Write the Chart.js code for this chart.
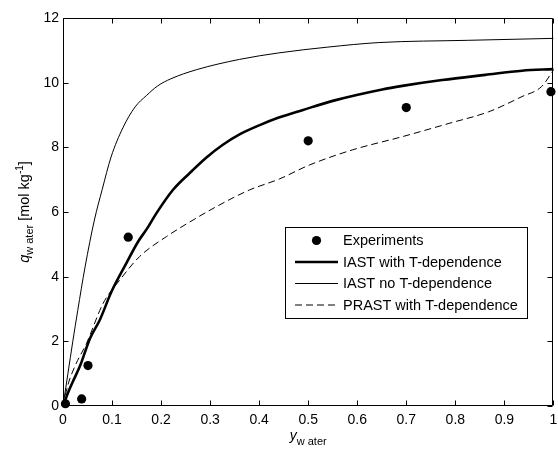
<!DOCTYPE html>
<html>
<head>
<meta charset="utf-8">
<script src="https://cdn.jsdelivr.net/npm/chart.js@4/dist/chart.umd.min.js"></script>
<style>
  html, body { margin: 0; padding: 0; background: #fff; }
  #wrap { width: 558px; height: 451px; }
</style>
</head>
<body>
<div id="wrap"><canvas id="c" width="558" height="451"></canvas></div>
<script>
const FONT = '"Liberation Sans", Arial, Helvetica, sans-serif';

// Axis ticks
const xTickValues = [0, 0.1, 0.2, 0.3, 0.4, 0.5, 0.6, 0.7, 0.8, 0.9, 1];
const yTickValues = [0, 2, 4, 6, 8, 10, 12];

// Measured uptake
const expY_water = [0.005, 0.038, 0.051, 0.133, 0.5, 0.7, 0.995];
const expQ_water = [0.07, 0.22, 1.25, 5.22, 8.2, 9.23, 9.72];

// IAST with temperature dependence
const iastT_y = [0, 0.01, 0.02, 0.035, 0.055, 0.075, 0.099, 0.129, 0.153, 0.172, 0.19, 0.224, 0.258, 0.292, 0.326, 0.36, 0.4, 0.44, 0.488, 0.556, 0.651, 0.692, 0.773, 0.861, 0.936, 1.0];
const iastT_q = [0, 0.4, 0.75, 1.25, 2.09, 2.66, 3.54, 4.41, 5.08, 5.5, 5.95, 6.68, 7.2, 7.68, 8.08, 8.4, 8.68, 8.92, 9.15, 9.46, 9.79, 9.9, 10.08, 10.24, 10.37, 10.42];

// IAST without temperature dependence
const iastNoT_y = [0, 0.01, 0.02, 0.03, 0.045, 0.064, 0.08, 0.098, 0.122, 0.147, 0.17, 0.193, 0.22, 0.272, 0.36, 0.44, 0.54, 0.644, 0.827, 1.0];
const iastNoT_q = [0, 1.0, 2.0, 2.95, 4.3, 5.75, 6.7, 7.7, 8.6, 9.25, 9.6, 9.9, 10.12, 10.4, 10.72, 10.92, 11.1, 11.24, 11.31, 11.37];

// PRAST with temperature dependence
const prastT_y = [0, 0.01, 0.024, 0.048, 0.082, 0.116, 0.156, 0.211, 0.265, 0.312, 0.38, 0.441, 0.502, 0.59, 0.692, 0.787, 0.868, 0.936, 0.976, 1.0];
const prastT_q = [0, 0.65, 1.22, 1.94, 3.18, 3.9, 4.62, 5.24, 5.75, 6.16, 6.68, 7.02, 7.45, 7.92, 8.33, 8.74, 9.1, 9.57, 9.88, 10.39];

const seriesLabels = ['Experiments', 'IAST with T-dependence', 'IAST no T-dependence', 'PRAST with T-dependence'];

const pts = (xs, ys) => xs.map((x, i) => ({ x: x, y: ys[i] }));

// Box frame with inward tick marks on all four sides
const framePlugin = {
  id: 'frame',
  beforeDatasetsDraw(chart) {
    const { ctx, chartArea: a, scales } = chart;
    const L = Math.round(a.left) + 0.5, R = Math.round(a.right) - 0.5;
    const T = Math.round(a.top) + 0.5, B = Math.round(a.bottom) - 0.5;
    const tl = 5;
    ctx.save();
    ctx.strokeStyle = '#000';
    ctx.lineWidth = 1;
    ctx.beginPath();
    ctx.rect(L, T, R - L, B - T);
    scales.x.ticks.forEach(t => {
      const px = Math.round(scales.x.getPixelForValue(t.value)) + 0.5;
      ctx.moveTo(px, B); ctx.lineTo(px, B - tl);
      ctx.moveTo(px, T); ctx.lineTo(px, T + tl);
    });
    scales.y.ticks.forEach(t => {
      const py = Math.round(scales.y.getPixelForValue(t.value)) + 0.5;
      ctx.moveTo(L, py); ctx.lineTo(L + tl, py);
      ctx.moveTo(R, py); ctx.lineTo(R - tl, py);
    });
    ctx.stroke();
    ctx.restore();
  }
};

// Axis titles with italic symbols and sub/superscripts
function drawRuns(ctx, runs, x, y) {
  let cx = x;
  runs.forEach(r => {
    ctx.font = r.font;
    ctx.fillText(r.text, cx, y + (r.dy || 0));
    cx += ctx.measureText(r.text).width;
  });
}
function runsWidth(ctx, runs) {
  let w = 0;
  runs.forEach(r => { ctx.font = r.font; w += ctx.measureText(r.text).width; });
  return w;
}
const titlePlugin = {
  id: 'titles',
  afterDraw(chart) {
    const { ctx, chartArea: a } = chart;
    ctx.save();
    ctx.fillStyle = '#000';
    ctx.textBaseline = 'alphabetic';
    ctx.textAlign = 'left';
    const xRuns = [
      { text: 'y', font: 'italic 14px ' + FONT },
      { text: 'w ater', font: '11px ' + FONT, dy: 5 }
    ];
    const xw = runsWidth(ctx, xRuns);
    drawRuns(ctx, xRuns, (a.left + a.right) / 2 - xw / 2, 440);

    const yRuns = [
      { text: 'q', font: 'italic 14.5px ' + FONT },
      { text: 'w ater', font: '11px ' + FONT, dy: 4 },
      { text: ' [mol kg', font: '14.5px ' + FONT },
      { text: '-1', font: '10px ' + FONT, dy: -6 },
      { text: ']', font: '14.5px ' + FONT }
    ];
    const yw = runsWidth(ctx, yRuns);
    ctx.translate(29, (a.top + a.bottom) / 2);
    ctx.rotate(-Math.PI / 2);
    drawRuns(ctx, yRuns, -yw / 2, 0);
    ctx.restore();
  }
};

// Legend box inside the plot area
const legendPlugin = {
  id: 'boxLegend',
  afterDatasetsDraw(chart) {
    const { ctx, chartArea: a } = chart;
    const left = a.left + 222, top = a.top + 209, w = 242, h = 91;
    ctx.save();
    ctx.fillStyle = '#fff';
    ctx.fillRect(left, top, w, h);
    ctx.strokeStyle = '#000';
    ctx.lineWidth = 1;
    ctx.strokeRect(Math.round(left) + 0.5, Math.round(top) + 0.5, w, h);
    chart.data.datasets.forEach((ds, i) => {
      const y = top + 13.5 + i * 21.5;
      const x0 = left + 10, x1 = left + 53;
      if (ds.showLine === false) {
        ctx.fillStyle = ds.backgroundColor;
        ctx.beginPath();
        ctx.arc((x0 + x1) / 2, y, ds.pointRadius, 0, Math.PI * 2);
        ctx.fill();
      } else {
        ctx.strokeStyle = ds.borderColor;
        ctx.lineWidth = ds.borderWidth;
        ctx.setLineDash(ds.borderDash || []);
        ctx.beginPath();
        ctx.moveTo(x0, y); ctx.lineTo(x1, y);
        ctx.stroke();
        ctx.setLineDash([]);
      }
      ctx.fillStyle = '#000';
      ctx.font = '14.5px ' + FONT;
      ctx.textBaseline = 'middle';
      ctx.fillText(ds.label, left + 58, y + 0.5);
    });
    ctx.restore();
  }
};

const lineDefaults = {
  type: 'line',
  pointRadius: 0,
  pointHoverRadius: 0,
  fill: false,
  cubicInterpolationMode: 'monotone',
  borderColor: '#000',
  clip: 2
};

new Chart(document.getElementById('c'), {
  type: 'scatter',
  data: {
    datasets: [
      {
        label: seriesLabels[0],
        data: pts(expY_water, expQ_water),
        showLine: false,
        pointRadius: 4.6,
        pointHoverRadius: 4.6,
        backgroundColor: '#000',
        borderColor: '#000',
        borderWidth: 0,
        clip: false
      },
      Object.assign({}, lineDefaults, {
        label: seriesLabels[1],
        data: pts(iastT_y, iastT_q),
        borderWidth: 2.6
      }),
      Object.assign({}, lineDefaults, {
        label: seriesLabels[2],
        data: pts(iastNoT_y, iastNoT_q),
        borderWidth: 1
      }),
      Object.assign({}, lineDefaults, {
        label: seriesLabels[3],
        data: pts(prastT_y, prastT_q),
        borderWidth: 1,
        borderDash: [7, 4]
      })
    ]
  },
  options: {
    responsive: false,
    animation: false,
    devicePixelRatio: 1,
    layout: { padding: { top: 18, right: 3, left: 0, bottom: 0 } },
    plugins: {
      legend: { display: false },
      tooltip: { enabled: false },
      title: { display: false }
    },
    scales: {
      x: {
        type: 'linear',
        min: 0,
        max: 1,
        afterBuildTicks: s => { s.ticks = xTickValues.map(v => ({ value: v })); },
        afterFit: s => { s.height = 45; s.paddingLeft = 0; s.paddingRight = 0; },
        grid: { display: false, drawTicks: false },
        border: { display: false },
        ticks: {
          padding: 6,
          color: '#000',
          font: { family: FONT, size: 14 },
          maxRotation: 0,
          autoSkip: false,
          callback: v => String(v)
        }
      },
      y: {
        type: 'linear',
        min: 0,
        max: 12,
        afterBuildTicks: s => { s.ticks = yTickValues.map(v => ({ value: v })); },
        afterFit: s => { s.width = 63; s.paddingTop = 0; s.paddingBottom = 0; },
        grid: { display: false, drawTicks: false },
        border: { display: false },
        ticks: {
          padding: 4,
          color: '#000',
          font: { family: FONT, size: 14 },
          callback: v => String(v)
        }
      }
    }
  },
  plugins: [framePlugin, legendPlugin, titlePlugin]
});
</script>
</body>
</html>
